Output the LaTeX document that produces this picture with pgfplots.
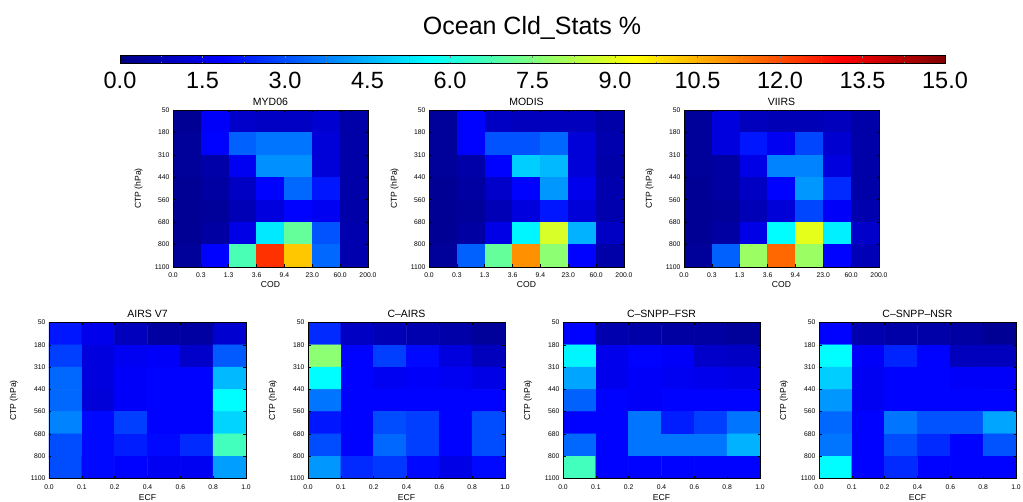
\documentclass[border=0pt]{standalone}
\usepackage{fontspec}
\setmainfont{Liberation Sans}
\usepackage{pgfplots}
\pgfplotsset{compat=1.18}
\pgfplotsset{
  /pgf/number format/assume math mode=true,
  hmbase/.style={
    scale only axis, anchor=north west,
    ymin=0, ymax=7, y dir=reverse,
    colormap/jet, point meta min=0, point meta max=15,
    axis on top, enlargelimits=false,
    ytick={0,...,7},
    yticklabels={50,180,310,440,560,680,800,1100},
    tick align=inside, major tick length=2.5pt,
    every tick/.style={black, line width=0.5pt},
    axis line style={black, line width=0.6pt},
    ticklabel style={font=\fontsize{6.8}{7.5}\selectfont},
    xticklabel style={yshift=-2.6pt},
    title style={at={(axis description cs:0.5,1)}, anchor=south, inner sep=1pt, yshift=-2.5pt, font=\fontsize{10.5}{12}\selectfont},
    xlabel style={at={(axis description cs:0.5,0)}, anchor=north, inner sep=1pt, font=\fontsize{8.6}{10}\selectfont},
    ylabel style={anchor=south, inner sep=1pt, font=\fontsize{8.6}{10}\selectfont},
    ylabel={CTP (hPa)},
  },
  codaxis/.style={hmbase, width=195pt, height=157pt, xmin=0, xmax=7,
    xtick={0,...,7}, xticklabels={0.0,0.3,1.3,3.6,9.4,23.0,60.0,200.0},
    xlabel={COD}, xlabel style={yshift=-13pt},
    ylabel style={at={(axis description cs:-0.149,0.5)}}},
  ecfaxis/.style={hmbase, width=197pt, height=156pt, xmin=0, xmax=6,
    xtick={0,...,6}, xticklabels={0.0,0.1,0.2,0.4,0.6,0.8,1.0},
    xlabel={ECF}, xlabel style={yshift=-14.5pt},
    ylabel style={at={(axis description cs:-0.152,0.5)}}},
}
\begin{document}
\begin{tikzpicture}
\useasboundingbox (0pt,0pt) rectangle (1023pt,-502pt);
\fill[white] (0pt,0pt) rectangle (1023pt,-502pt);

% title of colour bar
\node[font=\fontsize{25}{28}\selectfont, anchor=base, inner sep=0pt] at (532pt,-35pt) {Ocean Cld\_Stats \%};

% colour bar
\begin{axis}[
  at={(120pt,-55pt)}, anchor=south west,
  scale only axis, width=825pt, height=8pt,
  hide axis, xmin=0, xmax=15, ymin=0, ymax=1,
  colormap/jet, point meta min=0, point meta max=15,
  colorbar horizontal,
  colorbar style={
    at={(parent axis.south west)}, anchor=south west,
    scale only axis, width=825pt, height=8pt,
    xtick={0,1.5,3,4.5,6,7.5,9,10.5,12,13.5,15},
    minor x tick num=1,
    xticklabel style={font=\fontsize{23.5}{26}\selectfont, yshift=-5pt, /pgf/number format/.cd, fixed, fixed zerofill, precision=1},
    tick align=inside, major tick length=2pt, minor tick length=1.2pt,
    axis line style={line width=0.6pt},
  },
]
\addplot[draw=none] coordinates {(0,0)};
\end{axis}

% ---------------- MYD06
\begin{axis}[codaxis, at={(173pt,-110pt)}, title={MYD06}]
\addplot[matrix plot*, mesh/cols=7, point meta=explicit] coordinates {
(0.5,0.5)[0.3] (1.5,0.5)[1.8] (2.5,0.5)[1.1] (3.5,0.5)[1.0] (4.5,0.5)[1.0] (5.5,0.5)[1.2] (6.5,0.5)[0.6]
(0.5,1.5)[0.4] (1.5,1.5)[1.9] (2.5,1.5)[3.3] (3.5,1.5)[3.6] (4.5,1.5)[3.6] (5.5,1.5)[1.3] (6.5,1.5)[0.6]
(0.5,2.5)[0.4] (1.5,2.5)[0.6] (2.5,2.5)[1.7] (3.5,2.5)[4.0] (4.5,2.5)[4.0] (5.5,2.5)[1.3] (6.5,2.5)[0.6]
(0.5,3.5)[0.3] (1.5,3.5)[0.5] (2.5,3.5)[1.0] (3.5,3.5)[1.9] (4.5,3.5)[3.4] (5.5,3.5)[2.2] (6.5,3.5)[0.6]
(0.5,4.5)[0.3] (1.5,4.5)[0.4] (2.5,4.5)[0.8] (3.5,4.5)[1.4] (4.5,4.5)[1.9] (5.5,4.5)[1.7] (6.5,4.5)[0.6]
(0.5,5.5)[0.3] (1.5,5.5)[0.5] (2.5,5.5)[1.5] (3.5,5.5)[5.3] (4.5,5.5)[7.1] (5.5,5.5)[3.1] (6.5,5.5)[0.7]
(0.5,6.5)[0.4] (1.5,6.5)[1.9] (2.5,6.5)[6.7] (3.5,6.5)[12.4] (4.5,6.5)[10.2] (5.5,6.5)[3.4] (6.5,6.5)[0.7]
};
\end{axis}

% ---------------- MODIS
\begin{axis}[codaxis, at={(429pt,-110pt)}, title={MODIS}]
\addplot[matrix plot*, mesh/cols=7, point meta=explicit] coordinates {
(0.5,0.5)[0.4] (1.5,0.5)[1.9] (2.5,0.5)[1.0] (3.5,0.5)[0.9] (4.5,0.5)[0.9] (5.5,0.5)[0.9] (6.5,0.5)[0.6]
(0.5,1.5)[0.4] (1.5,1.5)[1.9] (2.5,1.5)[3.1] (3.5,1.5)[3.1] (4.5,1.5)[3.4] (5.5,1.5)[1.3] (6.5,1.5)[0.7]
(0.5,2.5)[0.4] (1.5,2.5)[0.6] (2.5,2.5)[1.9] (3.5,2.5)[4.9] (4.5,2.5)[4.6] (5.5,2.5)[1.3] (6.5,2.5)[0.6]
(0.5,3.5)[0.3] (1.5,3.5)[0.5] (2.5,3.5)[1.1] (3.5,3.5)[1.9] (4.5,3.5)[4.1] (5.5,3.5)[1.6] (6.5,3.5)[0.7]
(0.5,4.5)[0.3] (1.5,4.5)[0.4] (2.5,4.5)[0.8] (3.5,4.5)[1.4] (4.5,4.5)[2.2] (5.5,4.5)[1.3] (6.5,4.5)[0.7]
(0.5,5.5)[0.3] (1.5,5.5)[0.5] (2.5,5.5)[1.5] (3.5,5.5)[5.5] (4.5,5.5)[8.8] (5.5,5.5)[4.5] (6.5,5.5)[1.0]
(0.5,6.5)[0.4] (1.5,6.5)[3.3] (2.5,6.5)[7.1] (3.5,6.5)[11.0] (4.5,6.5)[7.7] (5.5,6.5)[1.9] (6.5,6.5)[0.6]
};
\end{axis}

% ---------------- VIIRS
\begin{axis}[codaxis, at={(684pt,-110pt)}, title={VIIRS}]
\addplot[matrix plot*, mesh/cols=7, point meta=explicit] coordinates {
(0.5,0.5)[0.4] (1.5,0.5)[1.4] (2.5,0.5)[0.9] (3.5,0.5)[0.8] (4.5,0.5)[0.8] (5.5,0.5)[0.9] (6.5,0.5)[0.6]
(0.5,1.5)[0.4] (1.5,1.5)[1.4] (2.5,1.5)[2.2] (3.5,1.5)[1.7] (4.5,1.5)[2.9] (5.5,1.5)[1.2] (6.5,1.5)[0.6]
(0.5,2.5)[0.4] (1.5,2.5)[0.5] (2.5,2.5)[1.5] (3.5,2.5)[3.8] (4.5,2.5)[3.8] (5.5,2.5)[1.4] (6.5,2.5)[0.6]
(0.5,3.5)[0.3] (1.5,3.5)[0.5] (2.5,3.5)[1.0] (3.5,3.5)[1.9] (4.5,3.5)[4.1] (5.5,3.5)[2.5] (6.5,3.5)[0.6]
(0.5,4.5)[0.3] (1.5,4.5)[0.4] (2.5,4.5)[0.8] (3.5,4.5)[1.3] (4.5,4.5)[2.9] (5.5,4.5)[1.8] (6.5,4.5)[0.7]
(0.5,5.5)[0.3] (1.5,5.5)[0.5] (2.5,5.5)[1.5] (3.5,5.5)[5.6] (4.5,5.5)[9.0] (5.5,5.5)[5.4] (6.5,5.5)[1.1]
(0.5,6.5)[0.4] (1.5,6.5)[3.3] (2.5,6.5)[7.9] (3.5,6.5)[11.6] (4.5,6.5)[7.9] (5.5,6.5)[1.9] (6.5,6.5)[0.8]
};
\end{axis}

% ---------------- AIRS V7
\begin{axis}[ecfaxis, at={(49pt,-322.5pt)}, title={AIRS V7}]
\addplot[matrix plot*, mesh/cols=6, point meta=explicit] coordinates {
(0.5,0.5)[2.2] (1.5,0.5)[1.6] (2.5,0.5)[0.9] (3.5,0.5)[0.5] (4.5,0.5)[0.5] (5.5,0.5)[1.2]
(0.5,1.5)[2.8] (1.5,1.5)[1.4] (2.5,1.5)[1.7] (3.5,1.5)[1.8] (4.5,1.5)[1.1] (5.5,1.5)[3.2]
(0.5,2.5)[3.4] (1.5,2.5)[1.4] (2.5,2.5)[1.8] (3.5,2.5)[1.9] (4.5,2.5)[1.9] (5.5,2.5)[4.6]
(0.5,3.5)[3.4] (1.5,3.5)[1.3] (2.5,3.5)[1.8] (3.5,3.5)[1.9] (4.5,3.5)[1.9] (5.5,3.5)[5.6]
(0.5,4.5)[3.8] (1.5,4.5)[2.0] (2.5,4.5)[2.8] (3.5,4.5)[1.9] (4.5,4.5)[1.9] (5.5,4.5)[5.0]
(0.5,5.5)[3.0] (1.5,5.5)[2.0] (2.5,5.5)[2.3] (3.5,5.5)[2.0] (4.5,5.5)[2.5] (5.5,5.5)[6.6]
(0.5,6.5)[3.0] (1.5,6.5)[2.0] (2.5,6.5)[1.9] (3.5,6.5)[1.7] (4.5,6.5)[1.7] (5.5,6.5)[4.2]
};
\end{axis}

% ---------------- C-AIRS
\begin{axis}[ecfaxis, at={(308pt,-322.5pt)}, title={C--AIRS}]
\addplot[matrix plot*, mesh/cols=6, point meta=explicit] coordinates {
(0.5,0.5)[2.5] (1.5,0.5)[1.0] (2.5,0.5)[0.8] (3.5,0.5)[0.7] (4.5,0.5)[0.6] (5.5,0.5)[0.4]
(0.5,1.5)[7.7] (1.5,1.5)[1.9] (2.5,1.5)[2.8] (3.5,1.5)[2.0] (4.5,1.5)[1.4] (5.5,1.5)[0.9]
(0.5,2.5)[5.6] (1.5,2.5)[1.9] (2.5,2.5)[1.7] (3.5,2.5)[1.8] (4.5,2.5)[1.7] (5.5,2.5)[1.5]
(0.5,3.5)[3.6] (1.5,3.5)[1.9] (2.5,3.5)[1.9] (3.5,3.5)[1.9] (4.5,3.5)[1.9] (5.5,3.5)[1.9]
(0.5,4.5)[2.2] (1.5,4.5)[1.9] (2.5,4.5)[3.0] (3.5,4.5)[2.8] (4.5,4.5)[1.9] (5.5,4.5)[3.0]
(0.5,5.5)[3.0] (1.5,5.5)[1.9] (2.5,5.5)[3.4] (3.5,5.5)[2.8] (4.5,5.5)[1.9] (5.5,5.5)[3.0]
(0.5,6.5)[4.1] (1.5,6.5)[2.5] (2.5,6.5)[2.7] (3.5,6.5)[2.0] (4.5,6.5)[1.5] (5.5,6.5)[2.0]
};
\end{axis}

% ---------------- C-SNPP-FSR
\begin{axis}[ecfaxis, at={(563pt,-322.5pt)}, title={C--SNPP--FSR}]
\addplot[matrix plot*, mesh/cols=6, point meta=explicit] coordinates {
(0.5,0.5)[1.9] (1.5,0.5)[0.7] (2.5,0.5)[0.6] (3.5,0.5)[0.5] (4.5,0.5)[0.5] (5.5,0.5)[0.4]
(0.5,1.5)[5.5] (1.5,1.5)[1.6] (2.5,1.5)[1.9] (3.5,1.5)[1.8] (4.5,1.5)[1.1] (5.5,1.5)[1.0]
(0.5,2.5)[4.3] (1.5,2.5)[1.6] (2.5,2.5)[1.8] (3.5,2.5)[1.7] (4.5,2.5)[1.6] (5.5,2.5)[1.5]
(0.5,3.5)[3.3] (1.5,3.5)[1.9] (2.5,3.5)[1.8] (3.5,3.5)[1.9] (4.5,3.5)[1.9] (5.5,3.5)[1.9]
(0.5,4.5)[1.9] (1.5,4.5)[1.9] (2.5,4.5)[3.6] (3.5,4.5)[2.3] (4.5,4.5)[2.8] (5.5,4.5)[3.6]
(0.5,5.5)[3.4] (1.5,5.5)[1.9] (2.5,5.5)[3.6] (3.5,5.5)[3.6] (4.5,5.5)[3.6] (5.5,5.5)[4.5]
(0.5,6.5)[6.6] (1.5,6.5)[1.9] (2.5,6.5)[1.9] (3.5,6.5)[1.9] (4.5,6.5)[1.9] (5.5,6.5)[1.9]
};
\end{axis}

% ---------------- C-SNPP-NSR
\begin{axis}[ecfaxis, at={(819pt,-322.5pt)}, title={C--SNPP--NSR}]
\addplot[matrix plot*, mesh/cols=6, point meta=explicit] coordinates {
(0.5,0.5)[1.9] (1.5,0.5)[0.7] (2.5,0.5)[0.6] (3.5,0.5)[0.6] (4.5,0.5)[0.5] (5.5,0.5)[0.3]
(0.5,1.5)[5.6] (1.5,1.5)[1.8] (2.5,1.5)[2.4] (3.5,1.5)[1.9] (4.5,1.5)[0.9] (5.5,1.5)[0.9]
(0.5,2.5)[4.9] (1.5,2.5)[1.7] (2.5,2.5)[1.9] (3.5,2.5)[1.9] (4.5,2.5)[1.8] (5.5,2.5)[1.8]
(0.5,3.5)[4.1] (1.5,3.5)[1.7] (2.5,3.5)[1.9] (3.5,3.5)[1.9] (4.5,3.5)[1.9] (5.5,3.5)[1.9]
(0.5,4.5)[3.4] (1.5,4.5)[1.9] (2.5,4.5)[3.6] (3.5,4.5)[3.1] (4.5,4.5)[3.1] (5.5,4.5)[4.3]
(0.5,5.5)[3.6] (1.5,5.5)[1.9] (2.5,5.5)[3.0] (3.5,5.5)[2.5] (4.5,5.5)[1.9] (5.5,5.5)[3.1]
(0.5,6.5)[5.6] (1.5,6.5)[1.9] (2.5,6.5)[2.5] (3.5,6.5)[1.9] (4.5,6.5)[1.9] (5.5,6.5)[1.9]
};
\end{axis}
\end{tikzpicture}
\end{document}
